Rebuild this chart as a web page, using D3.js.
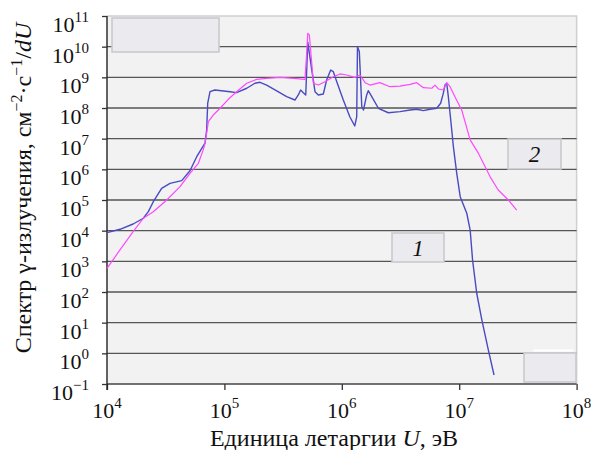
<!DOCTYPE html>
<html>
<head>
<meta charset="utf-8">
<script src="https://cdn.jsdelivr.net/npm/d3@7"></script>
<style>
  body { margin: 0; background: #fff; }
  svg { display: block; }
</style>
</head>
<body>
<script>
// curve 1 (blue): energy, eV and spectrum
var energy1 = [1.0e4, 1.29e4, 1.67e4, 2.04e4, 2.25e4, 2.48e4, 2.92e4, 3.44e4, 4.33e4, 5.09e4,
  5.81e4, 6.84e4, 7.06e4, 7.21e4, 7.54e4, 8.3e4, 1.12e5, 1.27e5, 1.55e5, 1.82e5,
  2.01e5, 2.29e5, 2.79e5, 3.39e5, 3.99e5, 4.26e5, 4.46e5, 4.7e5, 4.93e5, 5.13e5,
  5.55e5, 5.72e5, 5.91e5, 6.31e5, 6.96e5, 7.43e5, 8.04e5, 8.47e5, 9.06e5, 1.03e6,
  1.17e6, 1.29e6, 1.34e6, 1.36e6, 1.41e6, 1.48e6, 1.53e6, 1.63e6, 1.68e6, 1.8e6,
  2.05e6, 2.49e6, 3.13e6, 3.81e6, 4.35e6, 4.95e6, 5.64e6, 6.43e6, 6.95e6, 7.32e6,
  7.57e6, 7.83e6, 8.08e6, 8.47e6, 8.92e6, 9.53e6, 1.02e7, 1.16e7, 1.24e7, 1.30e7,
  1.41e7, 1.56e7, 1.77e7, 1.98e7];
var spectrum1 = [8.6e3, 1.11e4, 1.65e4, 2.54e4, 4.16e4, 8.8e4, 2.41e5, 3.5e5, 4.27e5, 9.0e5,
  2.58e6, 7.1e6, 1.92e7, 1.43e8, 3.4e8, 3.86e8, 3.4e8, 3.16e8, 4.4e8, 6.4e8,
  6.9e8, 5.6e8, 3.6e8, 2.34e8, 1.82e8, 2.66e8, 3.86e8, 3.16e8, 2.66e8, 1.4e10,
  1.73e9, 8.2e8, 3.4e8, 2.66e8, 2.86e8, 8.2e8, 1.73e9, 1.53e9, 7.2e8, 1.82e8,
  5.2e7, 2.59e7, 5.2e7, 1.0e10, 6.9e9, 1.1e8, 8.6e7, 2.66e8, 3.66e8, 2.34e8,
  9.8e7, 7.0e7, 7.6e7, 8.6e7, 9.1e7, 8.2e7, 9.1e7, 9.8e7, 1.43e8, 3.0e8,
  5.6e8, 6.4e8, 2.34e8, 4.06e7, 5.5e6, 7.4e5, 1.28e5, 3.7e4, 1.05e4, 1.1e3,
  91, 12.2, 1.29, 0.197];

// curve 2 (magenta)
var energy2 = [1.0e4, 1.29e4, 1.67e4, 2.04e4, 2.48e4, 3.23e4, 4.19e4, 5.09e4, 6.0e4, 6.6e4,
  6.84e4, 7.06e4, 7.3e4, 8.04e4, 9.18e4, 1.08e5, 1.27e5, 1.55e5, 1.88e5, 2.29e5,
  2.98e5, 3.86e5, 4.86e5, 5.02e5, 5.13e5, 5.29e5, 5.55e5, 5.72e5, 6.31e5, 7.19e5,
  8.47e5, 9.66e5, 1.1e6, 1.29e6, 1.43e6, 1.58e6, 1.74e6, 2.11e6, 2.57e6, 3.13e6,
  3.81e6, 4.35e6, 4.95e6, 5.84e6, 6.22e6, 6.64e6, 7.32e6, 7.83e6, 8.36e6, 9.2e6,
  1.05e7, 1.24e7, 1.46e7, 1.83e7, 2.15e7, 2.62e7, 3.09e7];
var spectrum2 = [5.9e2, 2.35e3, 9.3e3, 2.54e4, 4.16e4, 1.0e5, 2.72e5, 7.4e5, 1.57e6, 4.3e6,
  7.1e6, 1.5e7, 3.58e7, 5.9e7, 9.8e7, 1.92e8, 3.4e8, 6.4e8, 8.6e8, 9.3e8,
  1.0e9, 9.3e8, 8.6e8, 6.1e9, 2.7e10, 2.4e10, 2.87e9, 6.4e8, 5.6e8, 7.2e8,
  1.05e9, 1.29e9, 1.19e9, 1.0e9, 1.19e9, 6.7e8, 5.6e8, 6.7e8, 4.95e8, 5.2e8,
  5.9e8, 6.7e8, 4.6e8, 4.4e8, 5.6e8, 4.17e8, 3.86e8, 6.7e8, 4.95e8, 2.34e8,
  8.6e7, 9.1e6, 3.3e6, 5.8e5, 2.12e5, 1.0e5, 4.7e4];

var xTickExp = [4, 5, 6, 7, 8];
var yTickExp = [-1, 0, 1, 2, 3, 4, 5, 6, 7, 8, 9, 10, 11];
var curveLabels = ["1", "2"];
var xTitle = ["Единица летаргии ", "U", ", эВ"];

var width = 591, height = 450;
var plotL = 107, plotR = 576.6, plotT = 16, plotB = 384;

var svg = d3.select("body").append("svg").attr("width", width).attr("height", height)
  .attr("font-family", "Liberation Serif").attr("fill", "#111");

var x = d3.scaleLog().domain([1e4, 1e8]).range([plotL, plotR]);
var y = d3.scaleLog().domain([1e-1, 1e11]).range([plotB, plotT]);

// plot background and light frame
svg.append("rect").attr("x", plotL).attr("y", plotT)
  .attr("width", plotR - plotL).attr("height", plotB - plotT)
  .attr("fill", "#f2f2f2");
svg.append("path")
  .attr("d", "M" + plotL + "," + plotT + "H" + plotR + "V" + plotB)
  .attr("fill", "none").attr("stroke", "#cfcfcf").attr("stroke-width", 1.5);

// horizontal grid
svg.selectAll(".grid").data(yTickExp.slice(1, -1)).enter().append("line")
  .attr("x1", plotL).attr("x2", plotR)
  .attr("y1", function(d) { return y(Math.pow(10, d)); })
  .attr("y2", function(d) { return y(Math.pow(10, d)); })
  .attr("stroke", "#555").attr("stroke-width", 1.4);

// axes
var xAxis = d3.axisBottom(x).tickValues(xTickExp.map(function(d) { return Math.pow(10, d); }))
  .tickSize(6).tickFormat("");
var yAxis = d3.axisLeft(y).tickValues(yTickExp.map(function(d) { return Math.pow(10, d); }))
  .tickSize(5).tickFormat("");
var gx = svg.append("g").attr("transform", "translate(0," + plotB + ")").call(xAxis);
var gy = svg.append("g").attr("transform", "translate(" + plotL + ",0)").call(yAxis);
gx.select(".domain").attr("stroke", "#444").attr("stroke-width", 1.4).attr("d", "M" + plotL + ",0H" + plotR);
gy.select(".domain").attr("stroke", "#222").attr("stroke-width", 1.4).attr("d", "M0," + plotT + "V" + (plotB + 6));
gx.selectAll(".tick line").attr("stroke", "#333").attr("stroke-width", 1.3);
gy.selectAll(".tick line").attr("stroke", "#333").attr("stroke-width", 1.3);

// tick labels 10^n
function powLabel(sel, e) {
  sel.append("tspan").text("10");
  sel.append("tspan").attr("dy", -10).attr("font-size", 15)
    .text(e < 0 ? "\u2212" + (-e) : String(e));
}
yTickExp.forEach(function(e) {
  var t = svg.append("text").attr("x", 89).attr("y", y(Math.pow(10, e)) + 16)
    .attr("text-anchor", "end").attr("font-size", 22);
  powLabel(t, e);
});
xTickExp.forEach(function(e) {
  var t = svg.append("text").attr("x", x(Math.pow(10, e))).attr("y", 418)
    .attr("text-anchor", "middle").attr("font-size", 22);
  powLabel(t, e);
});

// empty and labelled boxes
var boxes = [
  {x: 112, y: 18, w: 107, h: 34, label: ""},
  {x: 392, y: 233, w: 52, h: 29, label: curveLabels[0]},
  {x: 508, y: 139, w: 53, h: 30, label: curveLabels[1]},
  {x: 524, y: 353, w: 52, h: 29, label: ""}
];
boxes.forEach(function(b) {
  svg.append("rect").attr("x", b.x).attr("y", b.y).attr("width", b.w).attr("height", b.h)
    .attr("fill", "#ebebef").attr("stroke", "#c8cacd").attr("stroke-width", 1.6);
  if (b.label) {
    svg.append("text").attr("x", b.x + b.w / 2).attr("y", b.y + b.h / 2 + 8)
      .attr("text-anchor", "middle").attr("font-size", 23).attr("font-style", "italic")
      .text(b.label);
  }
});
svg.append("line").attr("x1", 533).attr("x2", 573).attr("y1", 350.5).attr("y2", 350.5)
  .attr("stroke", "#fff").attr("stroke-width", 2);

// curves
var line = d3.line()
  .x(function(d) { return x(d[0]); })
  .y(function(d) { return y(d[1]); });

svg.append("path").datum(d3.zip(energy1, spectrum1))
  .attr("d", line).attr("fill", "none")
  .attr("stroke", "#4a4ac2").attr("stroke-width", 1.4).attr("stroke-linejoin", "round");
svg.append("path").datum(d3.zip(energy2, spectrum2))
  .attr("d", line).attr("fill", "none")
  .attr("stroke", "#ff48ff").attr("stroke-width", 1.2).attr("stroke-linejoin", "round");

// axis titles
var xt = svg.append("text").attr("x", 334).attr("y", 446)
  .attr("text-anchor", "middle").attr("font-size", 24);
xt.append("tspan").text(xTitle[0]);
xt.append("tspan").attr("font-style", "italic").text(xTitle[1]);
xt.append("tspan").text(xTitle[2]);

var yt = svg.append("text").attr("transform", "translate(31,188) rotate(-90)")
  .attr("text-anchor", "middle").attr("font-size", 24);
yt.append("tspan").text("Спектр γ-излучения, см");
yt.append("tspan").attr("dy", -9).attr("font-size", 16).text("\u22122");
yt.append("tspan").attr("dy", 9).text("·с");
yt.append("tspan").attr("dy", -9).attr("font-size", 16).text("\u22121");
yt.append("tspan").attr("dy", 9).text("/");
yt.append("tspan").attr("font-style", "italic").text("dU");
</script>
</body>
</html>
